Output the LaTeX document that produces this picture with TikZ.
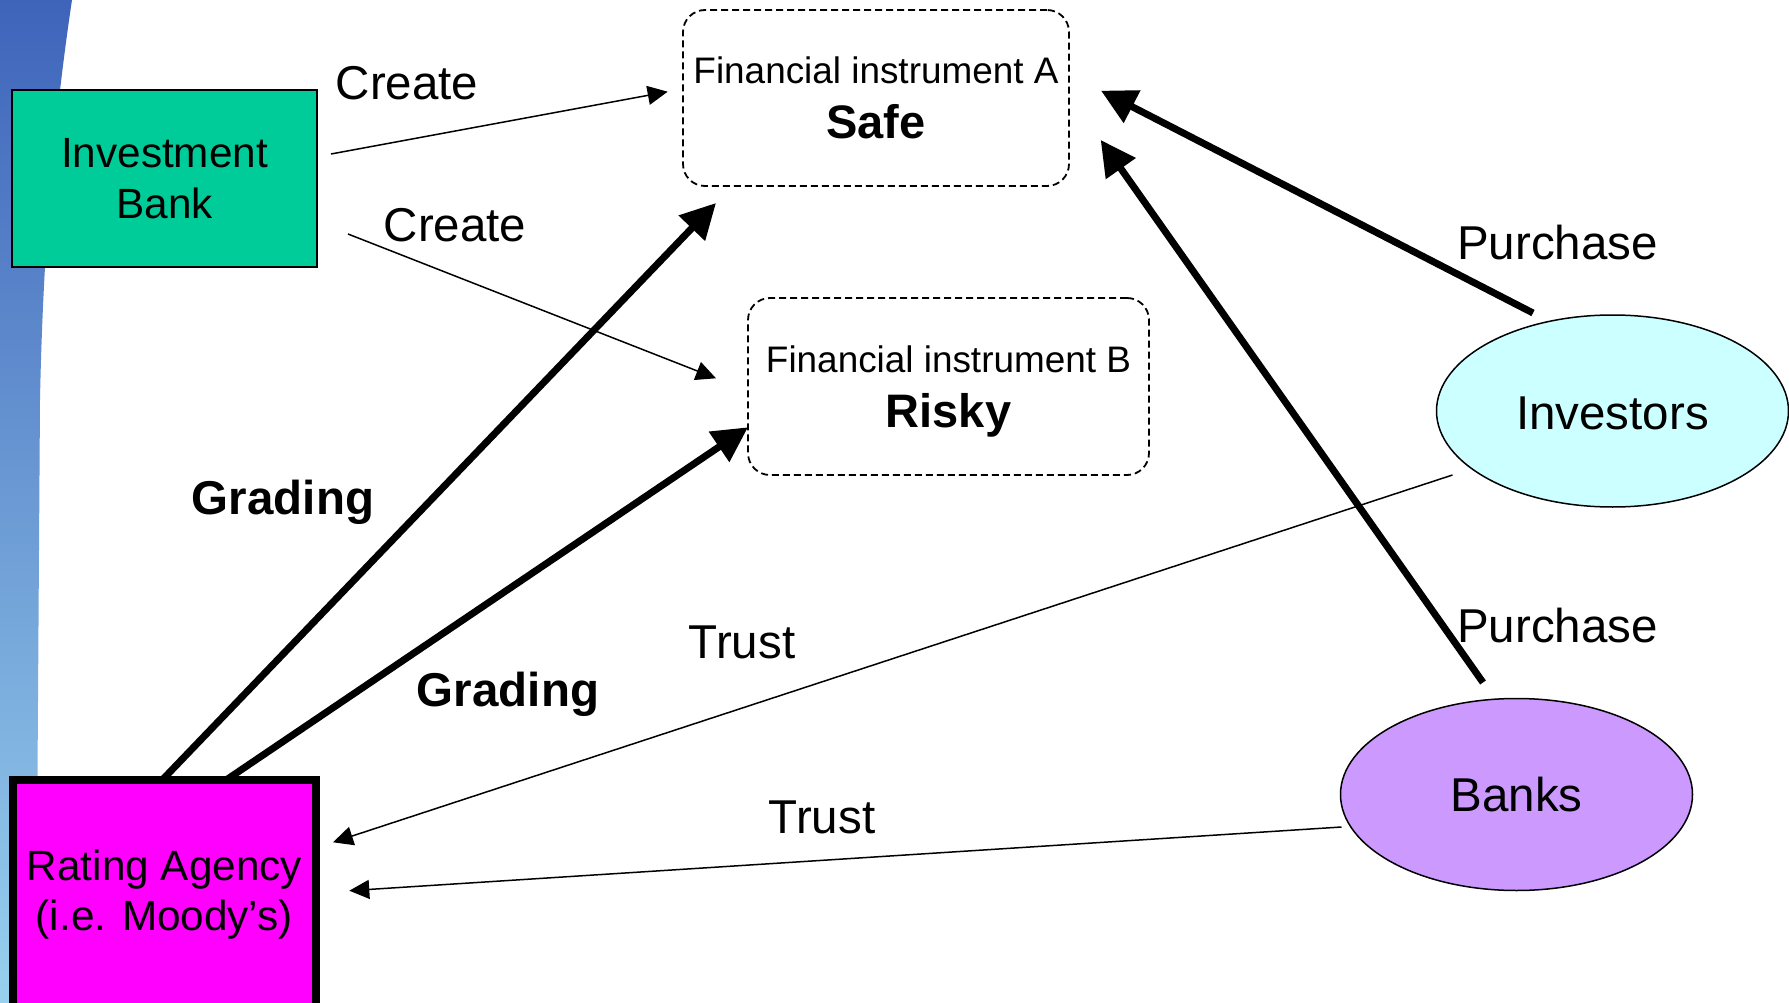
\documentclass[tikz,border=0pt]{standalone}
\usepackage{fontspec}
\setmainfont{Liberation Sans}
\usetikzlibrary{arrows.meta,shapes.geometric,calc}

\definecolor{ibgreen}{RGB}{0,204,153}
\definecolor{ramagenta}{RGB}{255,0,255}
\definecolor{invcyan}{RGB}{204,255,255}
\definecolor{bankviolet}{RGB}{204,153,255}
\definecolor{stripetop}{RGB}{62,100,186}
\definecolor{stripemid}{RGB}{92,150,214}
\definecolor{stripebot}{RGB}{152,208,238}

\begin{document}
\begin{tikzpicture}[x=1pt,y=-1pt,
  ibbox/.style={draw, line width=1.5pt, fill=ibgreen, inner sep=0pt, outer sep=0pt,
    minimum width=305pt, minimum height=177pt, align=center,
    font=\fontsize{42.3}{51.5}\selectfont},
  rabox/.style={draw, line width=7.7pt, fill=ramagenta, inner sep=0pt, outer sep=0pt,
    minimum width=303.2pt, minimum height=230.2pt, align=center,
    font=\fontsize{42.3}{50}\selectfont},
  instr/.style={draw, line width=1.8pt, dash pattern=on 7pt off 4pt, rounded corners=22pt,
    inner sep=0pt, outer sep=0pt, align=center, text depth=0pt,
    font=\fontsize{36.9}{55}\selectfont},
  party/.style={draw, line width=1.5pt, ellipse, inner sep=0pt, outer sep=0pt,
    minimum width=352pt, minimum height=192pt, font=\fontsize{47.5}{57}\selectfont},
  lbl/.style={anchor=base, inner sep=0pt, font=\fontsize{47.5}{57}\selectfont},
  boldlbl/.style={lbl, font=\fontsize{47.5}{57}\selectfont\bfseries},
  weakarrow/.style={line width=1.5pt, -{Triangle[length=20pt,width=19pt]}},
  strongarrow/.style={line width=7pt, -{Triangle[length=35pt,width=35pt]}}
]
\useasboundingbox (0,0) rectangle (1789,1003);
\clip (0,0) rectangle (1789,1003);
\fill[white] (0,0) rectangle (1789,1003);

% slide decoration on the left edge
\shade[top color=stripetop, middle color=stripemid, bottom color=stripebot]
  (0,0) -- (72,0) .. controls (54,120) and (43,250) .. (40,400) -- (36,1003) -- (0,1003) -- cycle;

% actors and instruments
\node[ibbox] (ib) at (164.5,178.5) {Investment\\Bank};
\node[rabox] (ra) at (164.4,894.9) {Rating Agency\\(i.e. Moody’s)};
\node[instr, minimum width=386pt, minimum height=176pt] (fa) at (876,98)
  {Financial instrument A\\{\fontsize{47}{55}\selectfont\bfseries Safe}};
\node[instr, minimum width=401pt, minimum height=177pt] (fb) at (948.5,386.5)
  {Financial instrument B\\{\fontsize{47}{55}\selectfont\bfseries Risky}};
\node[party, fill=invcyan, text depth=0pt, text height=37pt] (inv) at (1612.5,411) {Investors};
\node[party, fill=bankviolet] (bk) at (1516.5,794.5) {Banks};

% the bank creates both instruments
\draw[weakarrow] ($(ib.east)+(14,-24.5)$) -- ($(fa.west)+(-15.3,-6.3)$);
\draw[weakarrow] ($(ib.east)+(31,55.5)$) -- ($(fb.west)+(-32,-8.2)$);

% the agency grades them
\draw[strongarrow] ($(ra.north)+(-2,0)$) -- ($(fa.south west)+(33,17)$);
\draw[strongarrow] ($(ra.north)+(62,0)$) -- ($(fb.west)+(0,40.8)$);

% buyers purchase the safe instrument
\draw[strongarrow] ($(inv.north)+(-79.5,-2)$) -- ($(fa.east)+(32,-7.3)$);
\draw[strongarrow] ($(bk.north)+(-33.5,-16)$) -- ($(fa.east)+(31.7,42)$);

% buyers trust the agency
\draw[weakarrow] ($(inv.west)+(16,64)$) -- ($(ra.east)+(17,-52.6)$);
\draw[weakarrow] ($(bk.west)+(1,32.5)$) -- ($(ra.east)+(33.3,-4.2)$);

% connector labels
\node[lbl] (create1) at (407,99.2) {Create};
\node[lbl] (create2) at (455,241.7) {Create};
\node[boldlbl] (grade1) at (283,514.7) {Grading};
\node[boldlbl] (grade2) at (508,706.6) {Grading};
\node[lbl] (trust1) at (742,658.7) {Trust};
\node[lbl] (trust2) at (822,833.7) {Trust};
\node[lbl] (buy1) at (1557.5,260) {Purchase};
\node[lbl] (buy2) at (1557.5,642.7) {Purchase};
\end{tikzpicture}
\end{document}
